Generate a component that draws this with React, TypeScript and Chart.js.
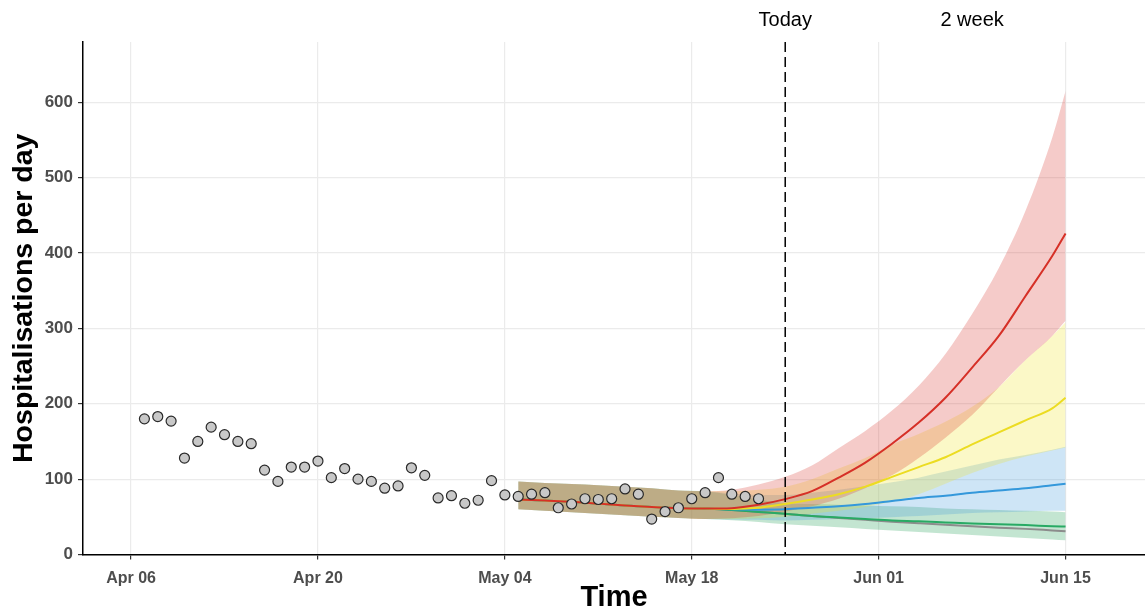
import React, { useEffect, useRef } from 'react';
import { Chart, registerables } from 'chart.js';

Chart.register(...registerables);

const FONT = '"Liberation Sans", Arial, Helvetica, sans-serif';

// ---- Axis / calendar ----
const ORIGIN = '2021-04-06';
const tickDates = ['2021-04-06', '2021-04-20', '2021-05-04', '2021-05-18', '2021-06-01', '2021-06-15'];
const tickLabels = ['Apr 06', 'Apr 20', 'May 04', 'May 18', 'Jun 01', 'Jun 15'];
const yTickStep = 100;
const todayDate = '2021-05-25';
const twoWeekDate = '2021-06-08';
const markerLabels = ['Today', '2 week'];

// ---- Observed daily hospitalisations (from 7 Apr, one per day) ----
const observedStart = '2021-04-07';
const observed = [
  180, 183, 177, 128, 150, 169, 159, 150, 147, 112, 97, 116, 116, 124,
  102, 114, 100, 97, 88, 91, 115, 105, 75, 78, 68, 72, 98, 79,
  77, 80, 82, 62, 67, 74, 73, 74, 87, 80, 47, 57, 62, 74, 82, 102,
  80, 77, 74,
];

// ---- Model fit / projection dates ----
const projDates = [
  '2021-05-05', '2021-05-07', '2021-05-09', '2021-05-11', '2021-05-13', '2021-05-15',
  '2021-05-17', '2021-05-19', '2021-05-21', '2021-05-23', '2021-05-25', '2021-05-27',
  '2021-05-29', '2021-05-31', '2021-06-02', '2021-06-04', '2021-06-06', '2021-06-08',
  '2021-06-10', '2021-06-12', '2021-06-14', '2021-06-15',
];

// Red scenario
const redMedian = [73, 71.5, 70, 67.5, 65, 63, 61.5, 61, 61.5, 66, 73.5, 84, 102, 122, 147, 175, 208, 248, 290, 343, 396, 426];
const redUpper = [97, 95, 93.5, 92, 90, 88, 85, 84, 86, 93, 103, 118, 141, 164, 191, 224, 266, 319, 380, 456, 553, 615];
const redLower = [60, 58, 56, 54, 52, 50, 48.5, 47, 48, 51, 57, 64, 74, 88, 105, 128, 155, 185, 222, 258, 290, 310];

// Yellow scenario
const yellowMedian = [73, 71.5, 70, 67.5, 65, 63, 61.5, 61, 60.5, 62, 67, 73, 80, 90, 103, 116, 129, 146, 162, 178, 194, 208];
const yellowUpper = [97, 95, 93.5, 92, 90, 88, 85, 84, 84, 86, 90, 100, 114, 128, 146, 160, 176, 196, 222, 258, 290, 308];
const yellowLower = [60, 58, 56, 54, 52, 50, 48.5, 47, 47, 48, 50, 54, 58, 63, 70, 80, 94, 108, 120, 130, 138, 142];

// Blue scenario
const blueMedian = [73, 71.5, 70, 67.5, 65, 63, 61.5, 61, 60, 59.5, 60, 62, 64, 67, 71, 75, 78, 82, 85, 88, 92, 94];
const blueUpper = [97, 95, 93.5, 92, 90, 88, 85, 84, 81, 79, 79, 82, 86, 91, 96, 102, 110, 118, 126, 132, 139, 143];
const blueLower = [60, 58, 56, 54, 52, 50, 48.5, 47, 46.5, 46, 45, 46, 47, 48, 49.5, 51, 53, 55, 56, 57, 58, 58];

// Green scenario
const greenMedian = [73, 71.5, 70, 67.5, 65, 63, 61.5, 61, 59, 56.5, 54, 51, 49, 47, 45, 44, 42.5, 41, 40, 39, 37.5, 37];
const greenUpper = [97, 95, 93.5, 92, 90, 88, 85, 84, 79, 73, 68, 67, 66, 65, 64, 63, 61, 60, 59, 58, 57, 56];
const greenLower = [60, 58, 56, 54, 52, 50, 48.5, 47, 45.5, 43, 40, 38, 36, 34, 32, 30, 28, 26, 24, 22, 20, 19];

// Grey scenario (median only)
const greyMedian = [73, 71.5, 70, 67.5, 65, 63, 61.5, 61, 59, 56.5, 54, 51, 48.5, 46, 43.5, 41.5, 39.5, 37.5, 35.5, 34, 32, 31];

// ---- helpers ----
const DAY_MS = 86400000;
const dayOf = (d: string) => (Date.parse(d) - Date.parse(ORIGIN)) / DAY_MS;
const X_MIN = -3.6;
const X_MAX = 75.95;
const Y_MIN = 0;
const Y_MAX = 680;

const toXY = (vals: number[]) => vals.map((v, i) => ({ x: dayOf(projDates[i]), y: v }));

const COLORS = {
  red: 'rgb(214,48,39)',
  redFill: 'rgba(214,48,39,0.25)',
  yellow: 'rgb(236,220,34)',
  yellowFill: 'rgba(240,228,30,0.25)',
  blue: 'rgb(52,152,219)',
  blueFill: 'rgba(60,150,220,0.25)',
  green: 'rgb(40,170,100)',
  greenFill: 'rgba(40,160,90,0.28)',
  grey: 'rgb(140,140,140)',
};

export default function App() {
  const canvasRef = useRef<HTMLCanvasElement | null>(null);

  useEffect(() => {
    document.body.style.margin = '0';
    const canvas = canvasRef.current;
    if (!canvas) return;

    const tickDays = tickDates.map(dayOf);
    const todayDay = dayOf(todayDate);
    const twoWeekDay = dayOf(twoWeekDate);

    const lineDs = (label: string, data: number[], color: string, order: number) => ({
      label,
      data: toXY(data),
      borderColor: color,
      borderWidth: 2,
      pointRadius: 0,
      fill: false,
      tension: 0.3,
      cubicInterpolationMode: 'monotone' as const,
      order,
    });
    const lowerDs = (label: string, data: number[], order: number) => ({
      label,
      data: toXY(data),
      borderWidth: 0,
      borderColor: 'rgba(0,0,0,0)',
      pointRadius: 0,
      fill: false,
      tension: 0.3,
      cubicInterpolationMode: 'monotone' as const,
      order,
    });
    const upperDs = (label: string, data: number[], fillColor: string, order: number) => ({
      label,
      data: toXY(data),
      borderWidth: 0,
      borderColor: 'rgba(0,0,0,0)',
      backgroundColor: fillColor,
      pointRadius: 0,
      fill: '-1',
      tension: 0.3,
      cubicInterpolationMode: 'monotone' as const,
      order,
    });

    const obsStartDay = dayOf(observedStart);

    const markerPlugin = {
      id: 'todayMarker',
      afterDatasetsDraw(chart: any) {
        const { ctx, chartArea, scales } = chart;
        const px = scales.x.getPixelForValue(todayDay);
        ctx.save();
        ctx.setLineDash([10, 5]);
        ctx.lineWidth = 1.5;
        ctx.strokeStyle = '#000';
        ctx.beginPath();
        ctx.moveTo(px, chartArea.top);
        ctx.lineTo(px, chartArea.bottom);
        ctx.stroke();
        ctx.restore();
      },
      afterDraw(chart: any) {
        const { ctx, scales } = chart;
        ctx.save();
        ctx.font = `20px ${FONT}`;
        ctx.fillStyle = '#000';
        ctx.textAlign = 'center';
        ctx.textBaseline = 'alphabetic';
        ctx.fillText(markerLabels[0], scales.x.getPixelForValue(todayDay), 26);
        ctx.fillText(markerLabels[1], scales.x.getPixelForValue(twoWeekDay), 26);
        ctx.restore();
      },
    };

    const chart = new Chart(canvas, {
      type: 'line',
      data: {
        datasets: [
          {
            label: 'Observed',
            data: observed.map((v, i) => ({ x: obsStartDay + i, y: v })),
            showLine: false,
            pointRadius: 5,
            pointBackgroundColor: '#c8c8c8',
            pointBorderColor: '#2a2a2a',
            pointBorderWidth: 1.2,
            order: 0,
          } as any,
          lineDs('Red', redMedian, COLORS.red, 1),
          lineDs('Yellow', yellowMedian, COLORS.yellow, 2),
          lineDs('Blue', blueMedian, COLORS.blue, 3),
          lineDs('Green', greenMedian, COLORS.green, 4),
          lineDs('Grey', greyMedian, COLORS.grey, 5),
          lowerDs('Red lower', redLower, 10),
          upperDs('Red upper', redUpper, COLORS.redFill, 10),
          lowerDs('Yellow lower', yellowLower, 11),
          upperDs('Yellow upper', yellowUpper, COLORS.yellowFill, 11),
          lowerDs('Blue lower', blueLower, 12),
          upperDs('Blue upper', blueUpper, COLORS.blueFill, 12),
          lowerDs('Green lower', greenLower, 13),
          upperDs('Green upper', greenUpper, COLORS.greenFill, 13),
        ],
      },
      options: {
        responsive: false,
        animation: false,
        events: [],
        layout: { autoPadding: false, padding: { top: 42, right: 0, bottom: 0, left: 0 } },
        plugins: {
          legend: { display: false },
          tooltip: { enabled: false },
        },
        scales: {
          x: {
            type: 'linear',
            min: X_MIN,
            max: X_MAX,
            afterBuildTicks: (scale: any) => {
              scale.ticks = tickDays.map((v) => ({ value: v }));
            },
            afterFit: (scale: any) => {
              scale.height = 57.5;
            },
            ticks: {
              autoSkip: false,
              maxRotation: 0,
              padding: 9,
              color: '#4d4d4d',
              font: { family: FONT, size: 16, weight: 'bold' },
              callback: (value: any) => {
                const idx = tickDays.indexOf(Number(value));
                return idx >= 0 ? tickLabels[idx] : '';
              },
            },
            grid: {
              color: '#ebebeb',
              lineWidth: 1.2,
              tickLength: 5,
              tickColor: '#333333',
              tickWidth: 1.2,
            },
            border: { display: true, color: '#000', width: 1.5 },
            title: {
              display: true,
              text: 'Time',
              color: '#000',
              font: { family: FONT, size: 29, weight: 'bold', lineHeight: 1 },
              padding: { top: 0, bottom: 0 },
            },
          },
          y: {
            type: 'linear',
            min: Y_MIN,
            max: Y_MAX,
            afterFit: (scale: any) => {
              scale.width = 83;
            },
            ticks: {
              stepSize: yTickStep,
              includeBounds: false,
              padding: 5,
              color: '#4d4d4d',
              font: { family: FONT, size: 17, weight: 'bold' },
            },
            grid: {
              color: '#ebebeb',
              lineWidth: 1.2,
              tickLength: 5,
              tickColor: '#333333',
              tickWidth: 1.2,
            },
            border: { display: true, color: '#000', width: 1.5 },
            title: {
              display: true,
              text: 'Hospitalisations per day',
              color: '#000',
              font: { family: FONT, size: 28.5, weight: 'bold', lineHeight: 1 },
              padding: { top: 10, bottom: 0 },
            },
          },
        },
      } as any,
      plugins: [markerPlugin],
    });

    return () => chart.destroy();
  }, []);

  return (
    <div style={{ width: 1145, height: 612, position: 'relative' }}>
      <canvas ref={canvasRef} width={1145} height={612} style={{ display: 'block' }} />
    </div>
  );
}
